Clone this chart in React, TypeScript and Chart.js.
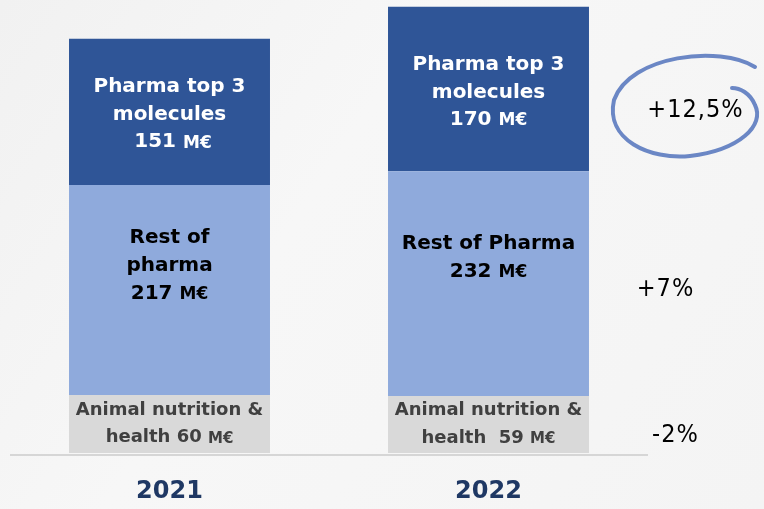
import React, { useEffect, useRef } from "react";
import { Chart, registerables } from "chart.js";

Chart.register(...registerables);

const years = ["2021", "2022"];
const animalValues = [60, 59];
const restValues = [217, 232];
const topValues = [151, 170];

const animalLabels = [
  ["Animal nutrition &", "health 60 M€"],
  ["Animal nutrition &", "health  59 M€"],
];
const restLabels = [
  ["Rest of", "pharma", "217 M€"],
  ["Rest of Pharma", "232 M€"],
];
const topLabels = [
  ["Pharma top 3", "molecules", " 151 M€"],
  ["Pharma top 3", "molecules", "170 M€"],
];
const growthLabels = ["-2%", "+7%", "+12,5%"];

const COLORS = {
  animal: "#D9D9D9",
  rest: "#8FAADC",
  top: "#2F5597",
  animalText: "#404040",
  restText: "#000000",
  topText: "#FFFFFF",
  year: "#1F3864",
  ring: "#6B87C5",
};

const FONT = "'DejaVu Sans', Verdana, sans-serif";

function drawRichLine(ctx: CanvasRenderingContext2D, text: string, cx: number, cy: number, size: number) {
  const idx = text.indexOf("M€");
  const big = `bold ${size}px ${FONT}`;
  const small = `bold ${Math.round(size * 0.85)}px ${FONT}`;
  ctx.textBaseline = "middle";
  ctx.textAlign = "left";
  if (idx < 0) {
    ctx.font = big;
    const w = ctx.measureText(text).width;
    ctx.fillText(text, cx - w / 2, cy);
    return;
  }
  const a = text.slice(0, idx);
  const b = text.slice(idx);
  ctx.font = big;
  const wa = ctx.measureText(a).width;
  ctx.font = small;
  const wb = ctx.measureText(b).width;
  const x0 = cx - (wa + wb) / 2;
  ctx.font = big;
  ctx.fillText(a, x0, cy);
  ctx.font = small;
  ctx.fillText(b, x0 + wa, cy + 1);
}

const overlayPlugin = {
  id: "overlay",
  beforeDraw(chart: any) {
    const { ctx, width, height } = chart;
    ctx.save();
    const g = ctx.createLinearGradient(0, 0, width, height);
    g.addColorStop(0, "#f1f1f1");
    g.addColorStop(0.4, "#f7f7f7");
    g.addColorStop(1, "#f4f4f4");
    ctx.fillStyle = g;
    ctx.fillRect(0, 0, width, height);
    ctx.restore();
  },
  afterDatasetsDraw(chart: any) {
    const { ctx, chartArea } = chart;
    const xs = chart.scales.x;
    ctx.save();
    // baseline
    ctx.strokeStyle = "#d6d6d6";
    ctx.lineWidth = 2;
    ctx.beginPath();
    ctx.moveTo(chartArea.left, chartArea.bottom + 2);
    ctx.lineTo(chartArea.right, chartArea.bottom + 2);
    ctx.stroke();

    const sets = [
      { labels: animalLabels, color: COLORS.animalText, size: 18, frac: 0.5, lh: 27.5 },
      { labels: restLabels, color: COLORS.restText, size: 20, frac: 0.385, lh: 28 },
      { labels: topLabels, color: COLORS.topText, size: 20, frac: 0.52, lh: 27.5 },
    ];
    sets.forEach((s, di) => {
      const meta = chart.getDatasetMeta(di);
      meta.data.forEach((el: any, i: number) => {
        const top = Math.min(el.y, el.base);
        const bot = Math.max(el.y, el.base);
        const cy = top + (bot - top) * s.frac;
        const lines = s.labels[i];
        ctx.fillStyle = s.color;
        lines.forEach((ln: string, k: number) => {
          const y = cy + (k - (lines.length - 1) / 2) * s.lh;
          drawRichLine(ctx, ln, el.x, y, s.size);
        });
      });
    });

    // year labels
    ctx.fillStyle = COLORS.year;
    ctx.font = `bold 24px ${FONT}`;
    ctx.textAlign = "center";
    ctx.textBaseline = "middle";
    years.forEach((y, i) => {
      ctx.fillText(y, xs.getPixelForValue(i), chartArea.bottom + 39);
    });

    // growth labels, aligned on 2021 segments
    const ys = [0, 1, 2].map((di) => {
      const el: any = chart.getDatasetMeta(di).data[0];
      return (el.y + el.base) / 2;
    });
    const gx = [675, 665, 695];
    const gdy = [12, 0, -1];
    ctx.fillStyle = "#000000";
    ctx.font = `25px 'Liberation Sans Narrow', 'DejaVu Sans Condensed', sans-serif`;
    (ctx as any).letterSpacing = "1px";
    ctx.textAlign = "center";
    growthLabels.forEach((t, i) => {
      ctx.fillText(t, gx[i] + 0.5, ys[i] + gdy[i]);
    });
    (ctx as any).letterSpacing = "0px";

    // hand-drawn ring around top growth
    ctx.strokeStyle = COLORS.ring;
    ctx.lineWidth = 4;
    ctx.lineCap = "round";
    ctx.beginPath();
    ctx.moveTo(755, 67);
    ctx.bezierCurveTo(720, 45, 630, 55, 614, 100);
    ctx.bezierCurveTo(605, 140, 650, 160, 690, 156);
    ctx.bezierCurveTo(740, 150, 765, 125, 755, 105);
    ctx.bezierCurveTo(750, 93, 740, 88, 732, 88);
    ctx.stroke();
    ctx.restore();
  },
};

export default function App() {
  const ref = useRef<HTMLCanvasElement>(null);
  useEffect(() => {
    document.body.style.margin = "0";
    const canvas = ref.current!;
    const chart = new Chart(canvas, {
      type: "bar",
      data: {
        labels: years,
        datasets: [
          { label: "Animal nutrition & health", data: animalValues, backgroundColor: COLORS.animal },
          { label: "Rest of pharma", data: restValues, backgroundColor: COLORS.rest },
          { label: "Pharma top 3 molecules", data: topValues, backgroundColor: COLORS.top },
        ],
      },
      options: {
        animation: false,
        responsive: false,
        layout: { padding: { left: 10, right: 116, top: 0, bottom: 56 } },
        datasets: { bar: { categoryPercentage: 1, barPercentage: 0.63, borderWidth: 0 } },
        plugins: { legend: { display: false }, tooltip: { enabled: false } },
        scales: {
          x: { stacked: true, display: false },
          y: { stacked: true, display: false, min: 0, max: 468 },
        },
      },
      plugins: [overlayPlugin],
    });
    return () => chart.destroy();
  }, []);
  return (
    <div style={{ width: 764, height: 509 }}>
      <canvas ref={ref} width={764} height={509} />
    </div>
  );
}
